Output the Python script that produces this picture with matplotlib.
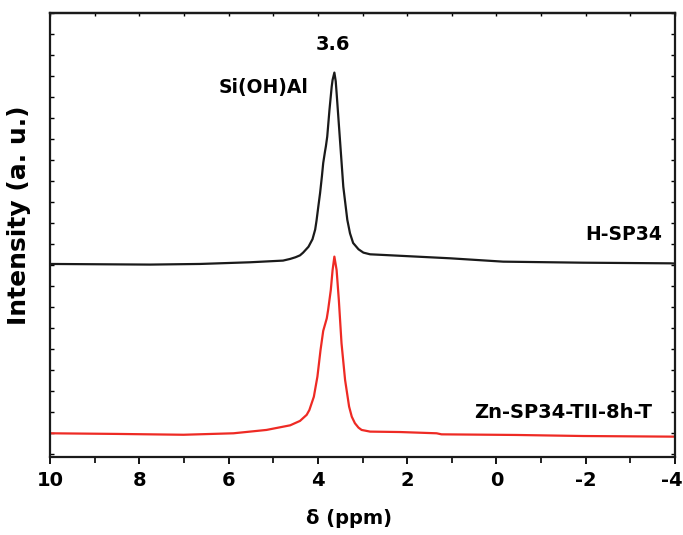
import matplotlib
matplotlib.use("Agg")
import matplotlib.pyplot as plt
from matplotlib.ticker import MultipleLocator
from matplotlib.transforms import ScaledTranslation

# ---- data ----
h_ppm = [10.0, 7.76, 6.64, 5.52, 4.78, 4.62, 4.50, 4.40, 4.33, 4.21, 4.12, 4.06, 4.03, 3.99,
         3.95, 3.91, 3.88, 3.84, 3.82, 3.79, 3.74, 3.69, 3.67, 3.63, 3.60, 3.58, 3.50, 3.43,
         3.34, 3.28, 3.21, 3.09, 2.98, 2.83, 2.54, 1.04, -0.15, -1.94, -3.89, -4.0]
h_int = [9.04, 9.01, 9.04, 9.12, 9.20, 9.28, 9.36, 9.45, 9.58, 9.86, 10.22, 10.68, 11.10, 11.77,
         12.42, 13.20, 13.85, 14.40, 14.65, 15.11, 16.38, 17.49, 17.81, 18.16, 17.75, 17.19, 14.81, 12.72,
         11.14, 10.50, 10.04, 9.74, 9.58, 9.50, 9.47, 9.31, 9.15, 9.10, 9.07, 9.06]

zn_ppm = [10.0, 8.51, 7.01, 5.89, 5.15, 4.62, 4.40, 4.25, 4.19, 4.09, 4.01, 3.94,
          3.88, 3.80, 3.77, 3.71, 3.67, 3.63, 3.58, 3.53, 3.47, 3.39, 3.30, 3.24, 3.17,
          3.09, 3.02, 2.83, 2.16, 1.34, 1.23, -0.45, -1.94, -3.96, -4.0]
zn_int = [0.97, 0.94, 0.90, 0.97, 1.13, 1.35, 1.56, 1.85, 2.08, 2.71, 3.67, 4.94,
          5.85, 6.45, 6.85, 7.80, 8.75, 9.39, 8.75, 7.32, 5.26, 3.51, 2.24, 1.76, 1.45,
          1.24, 1.13, 1.05, 1.03, 0.97, 0.92, 0.89, 0.84, 0.81, 0.81]

series_labels = ["H-SP34", "Zn-SP34-TII-8h-T"]
peak_label = "3.6"
peak_assign = "Si(OH)Al"
x_ticks = [10, 8, 6, 4, 2, 0, -2, -4]

plt.rcParams['font.family'] = ['DejaVu Sans']
plt.rcParams['axes.unicode_minus'] = False

fig = plt.figure(figsize=(6.83, 5.35), dpi=100)
ax = fig.add_axes([50/683, 78/535, 625/683, 444/535])

ax.plot(h_ppm, h_int, color='#1a1a1a', lw=1.6)
ax.plot(zn_ppm, zn_int, color='#ee2a24', lw=1.6)

ax.set_xlim(10, -4)
ax.set_ylim(-0.16, 21.0)

ax.set_xticks(x_ticks)
ax.set_xticklabels([str(t) for t in x_ticks], fontsize=14, fontweight='bold')
ax.xaxis.set_minor_locator(MultipleLocator(1))
ax.yaxis.set_major_locator(MultipleLocator(1))
ax.tick_params(axis='x', which='major', direction='out', length=5, width=1.3,
               bottom=True, top=False, pad=5)
ax.tick_params(axis='x', which='minor', direction='out', length=4, width=1.2,
               bottom=True, top=False)
ax.tick_params(axis='y', which='major', direction='in', length=3, width=1.0,
               left=True, right=True, labelleft=False)
ax.yaxis.set_minor_locator(MultipleLocator(1))
ax.tick_params(axis='y', which='minor', length=0)

# top inward ticks every unit
sec = ax.secondary_xaxis('top')
sec.set_xticks(range(-4, 11))
sec.tick_params(direction='in', length=2.5, width=1.0, labeltop=False)
sec.spines['top'].set_linewidth(1.6)

for s in ax.spines.values():
    s.set_linewidth(1.6)
    s.set_color('#1a1a1a')

ax.set_xlabel("δ (ppm)", fontsize=14, fontweight='bold')
ax.xaxis.set_label_coords(0.478, -0.118)
ax.set_ylabel("Intensity (a. u.)", fontsize=18, fontweight='bold')
ax.yaxis.set_label_coords(-0.030, 0.545)

ax.text(3.67, 19.48, peak_label, fontsize=14, fontweight='bold', ha='center', va='center')
ax.text(4.22, 17.43, peak_assign, fontsize=13.5, fontweight='bold', ha='right', va='center')
ax.text(-3.71, 10.42, series_labels[0], fontsize=13.5, fontweight='bold', ha='right', va='center')
ax.text(-3.49, 1.95, series_labels[1], fontsize=14, fontweight='bold', ha='right', va='center')

# keep the last tick label inside the canvas
last = ax.get_xticklabels()[-1]
last.set_transform(last.get_transform() + ScaledTranslation(-3/100, 0, fig.dpi_scale_trans))

fig.savefig("out.png", dpi=100)
